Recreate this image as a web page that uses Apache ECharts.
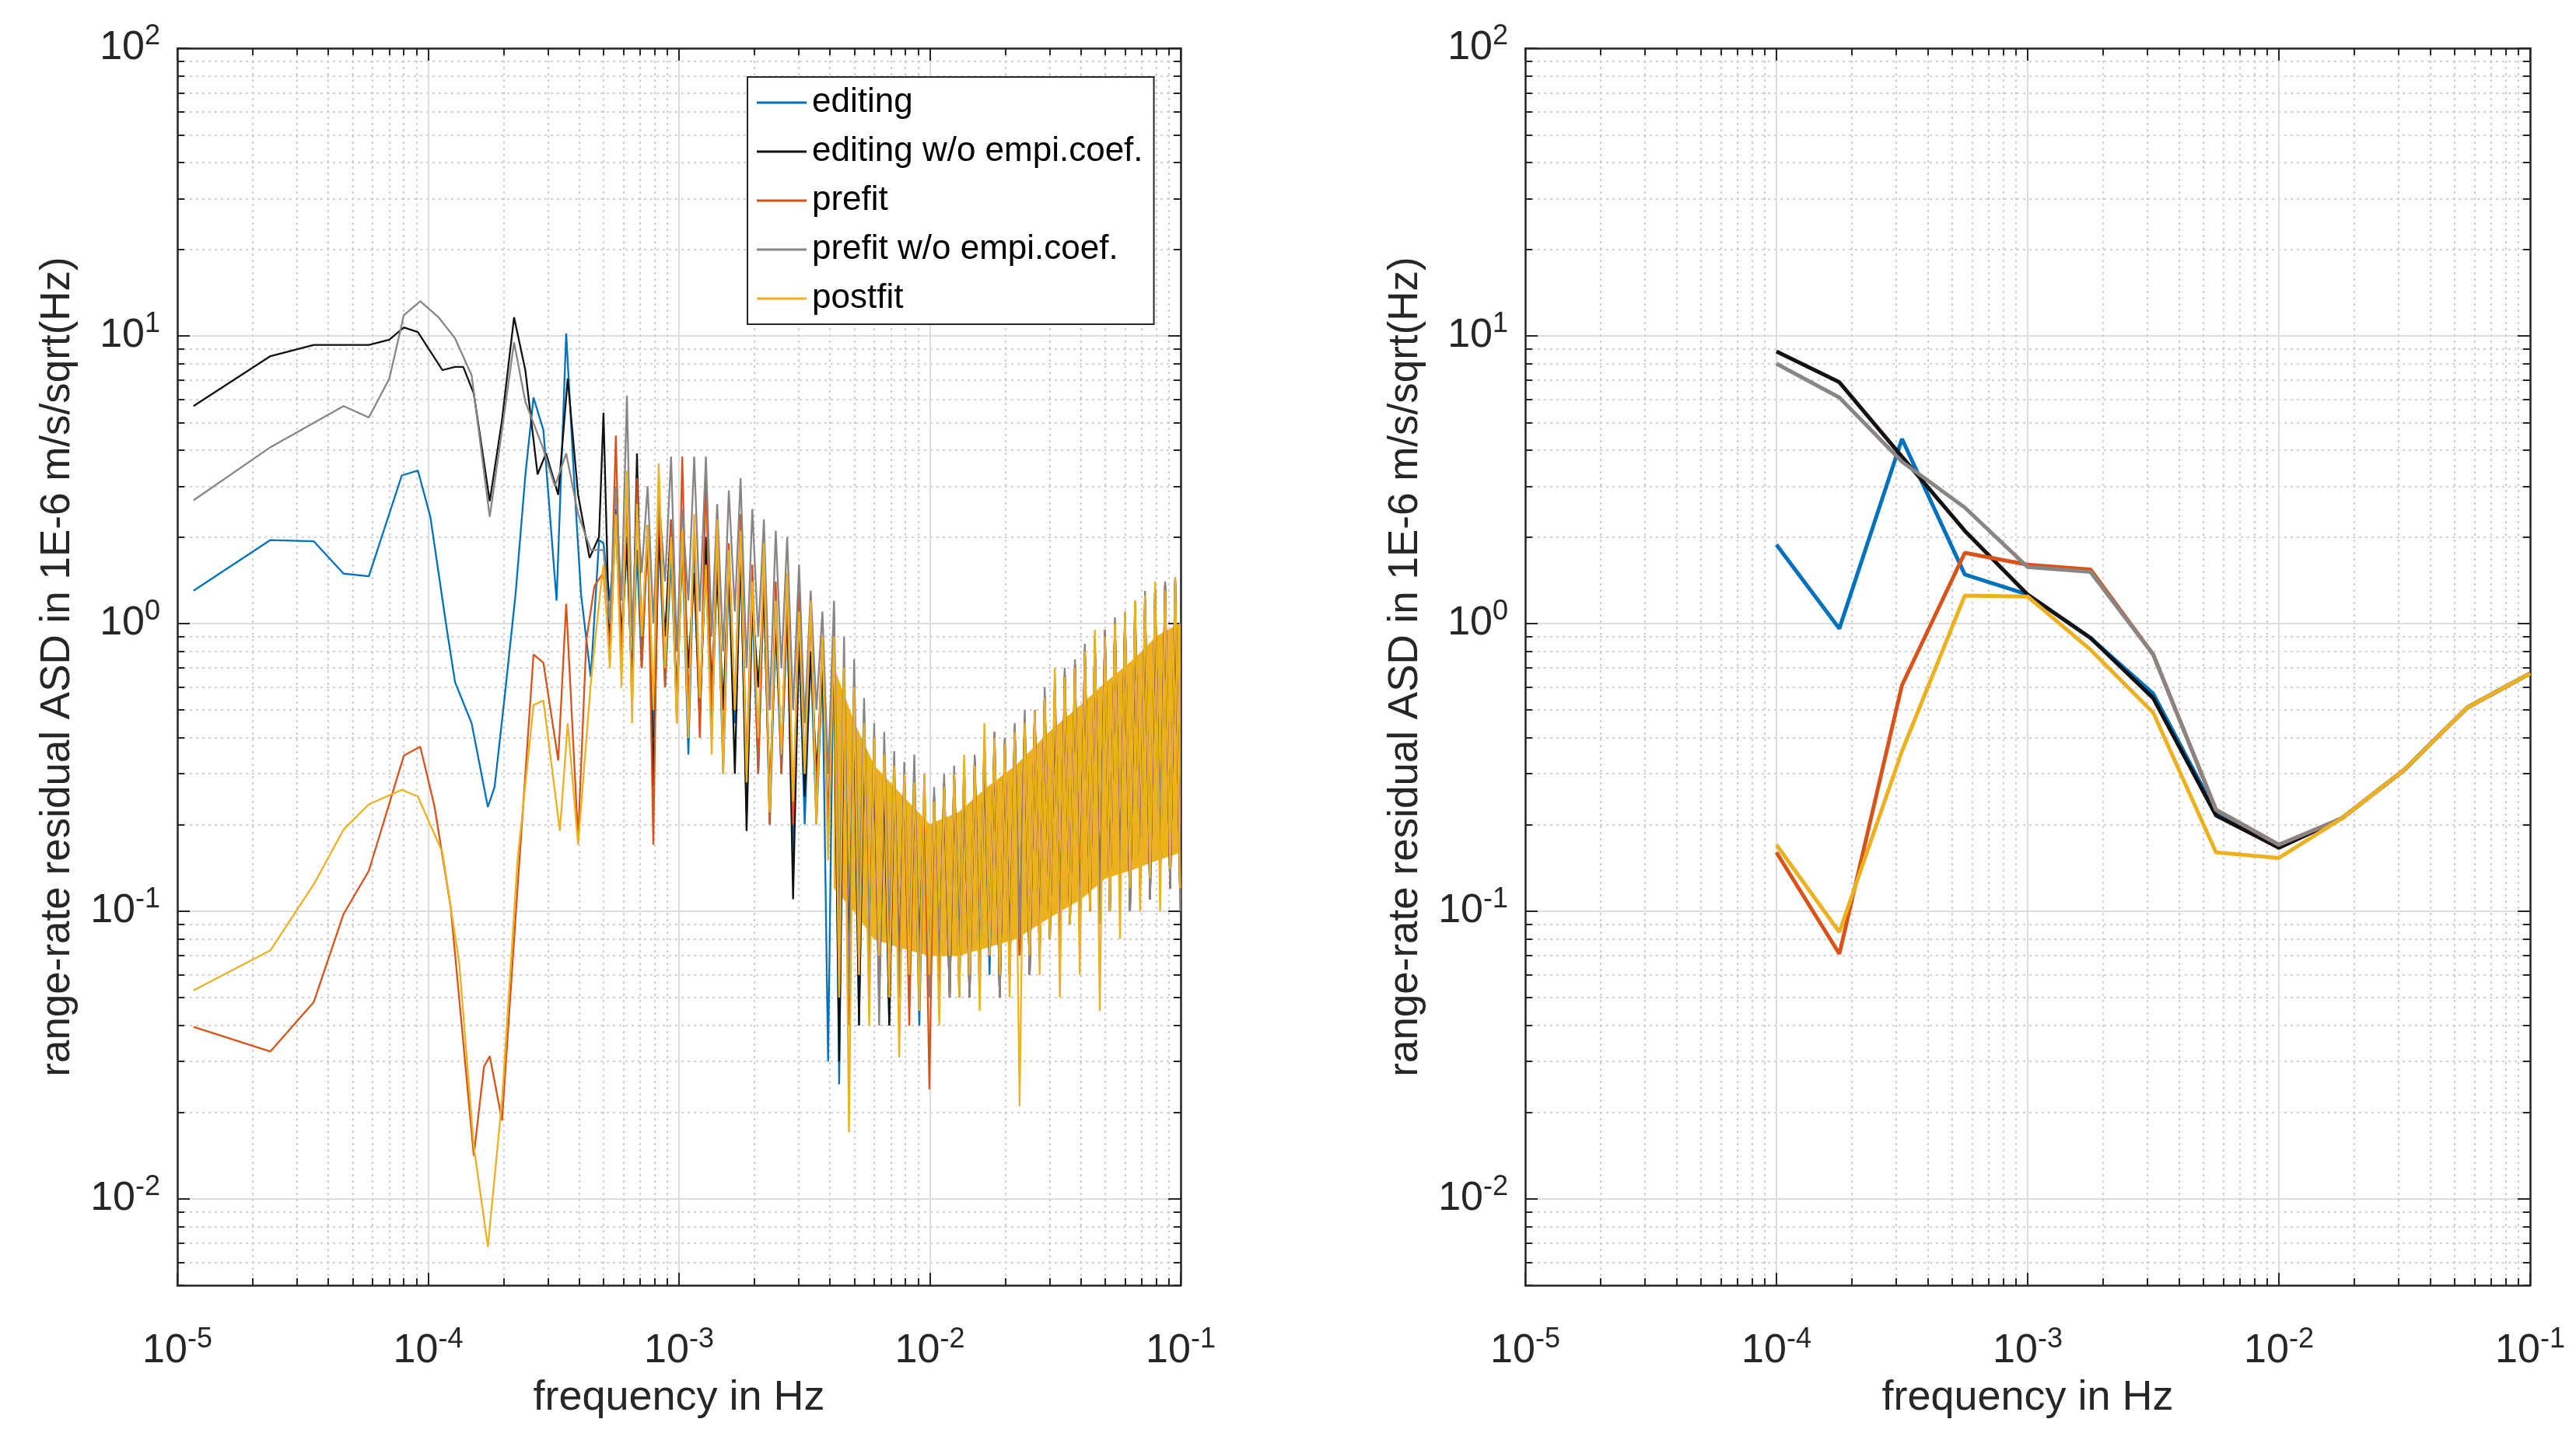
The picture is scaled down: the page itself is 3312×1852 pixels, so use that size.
<!DOCTYPE html>
<html><head><meta charset="utf-8">
<script src="https://cdn.jsdelivr.net/npm/echarts@6/dist/echarts.min.js"></script>
<style>html,body{margin:0;padding:0;background:#fff}#c{width:3312px;height:1852px}</style>
</head><body><div id="c"></div>
<script>
// ---------- data (frequency in Hz, ASD in 1E-6 m/s/sqrt(Hz)) ----------
const SERIES_NAMES = ['editing', 'editing w/o empi.coef.', 'prefit', 'prefit w/o empi.coef.', 'postfit'];
const X_TICK_EXP = [-5, -4, -3, -2, -1];
const Y_TICK_EXP = [-2, -1, 0, 1, 2];

// left panel, low-frequency part
const BLUE_LF_F = [1.16e-5,2.35e-5,3.5e-5,4.6e-5,5.8e-5,7.85e-5,9.1e-5,1.02e-4,1.19e-4,1.28e-4,1.49e-4,1.73e-4,1.84e-4,2.02e-4,2.23e-4,2.44e-4,2.63e-4,2.88e-4,3.25e-4,3.55e-4,3.83e-4,4.07e-4,4.45e-4,4.8e-4];
const BLUE_LF = [1.30,1.95,1.93,1.49,1.46,3.27,3.4,2.35,0.94,0.625,0.45,0.23,0.27,0.56,1.26,3.27,6.1,4.7,1.2,10.2,3.0,1.26,0.65,1.95];
const BLACK_LF_F = [1.16e-5,2.35e-5,3.5e-5,5.8e-5,7.0e-5,8.0e-5,9.1e-5,1.14e-4,1.28e-4,1.38e-4,1.52e-4,1.76e-4,1.97e-4,2.2e-4,2.44e-4,2.73e-4,2.95e-4,3.3e-4,3.6e-4,3.96e-4,4.4e-4,4.8e-4];
const BLACK_LF = [5.7,8.5,9.3,9.3,9.7,10.7,10.3,7.6,7.8,7.8,6.3,2.66,5.1,11.6,7.6,3.3,3.9,2.8,7.1,2.8,1.69,2.0];
const ORANGE_LF_F = [1.16e-5,2.35e-5,3.5e-5,4.6e-5,5.8e-5,8.0e-5,9.3e-5,1.06e-4,1.23e-4,1.52e-4,1.67e-4,1.76e-4,1.97e-4,2.27e-4,2.63e-4,2.88e-4,3.3e-4,3.55e-4,3.96e-4,4.27e-4,4.6e-4];
const ORANGE_LF = [0.0396,0.0325,0.0483,0.0977,0.138,0.347,0.373,0.231,0.103,0.0141,0.0288,0.0313,0.0187,0.119,0.78,0.73,0.334,1.17,0.179,0.87,1.35];
const GRAY_LF_F = [1.16e-5,2.35e-5,4.6e-5,5.8e-5,7.0e-5,8.0e-5,9.3e-5,1.1e-4,1.28e-4,1.49e-4,1.76e-4,1.97e-4,2.2e-4,2.44e-4,2.86e-4,3.2e-4,3.55e-4,3.96e-4,4.45e-4];
const GRAY_LF = [2.68,4.1,5.7,5.2,7.1,11.8,13.2,11.6,9.8,7.3,2.35,4.7,9.5,5.9,4.1,3.0,3.9,2.4,1.8];
const YELLOW_LF_F = [1.16e-5,2.35e-5,3.5e-5,4.6e-5,5.8e-5,7.85e-5,9.1e-5,1.14e-4,1.33e-4,1.52e-4,1.73e-4,1.97e-4,2.27e-4,2.63e-4,2.88e-4,3.35e-4,3.6e-4,3.96e-4,4.45e-4,4.87e-4];
const YELLOW_LF = [0.053,0.073,0.124,0.192,0.235,0.264,0.25,0.16,0.066,0.0152,0.0068,0.022,0.149,0.52,0.54,0.19,0.45,0.17,0.62,1.33];

// left panel, noisy part (shared frequencies)
const NOISE_F = [5.0e-4,5.3e-4,5.6e-4,5.9e-4,6.2e-4,6.5e-4,6.8e-4,7.1e-4,7.5e-4,7.9e-4,8.3e-4,8.8e-4,9.3e-4,9.8e-4,1.03e-3,1.09e-3,1.15e-3,1.21e-3,1.28e-3,1.35e-3,1.42e-3,1.50e-3,1.58e-3,1.67e-3,1.76e-3,1.86e-3,1.96e-3,2.07e-3,2.18e-3,2.30e-3,2.43e-3,2.56e-3,2.70e-3,2.85e-3,3.01e-3,3.17e-3,3.35e-3,3.53e-3,3.73e-3,3.93e-3,
 4.15e-3,4.35e-3,4.55e-3,4.76e-3,4.99e-3,5.22e-3,5.47e-3,5.73e-3,6.0e-3,6.28e-3,6.58e-3,6.89e-3,7.21e-3,7.55e-3,7.91e-3,8.28e-3,8.67e-3,9.08e-3,9.51e-3,9.96e-3,
 1.04e-2,1.09e-2,1.14e-2,1.2e-2,1.25e-2,1.31e-2,1.37e-2,1.44e-2,1.51e-2,1.58e-2,1.65e-2,1.73e-2,1.81e-2,1.9e-2,1.99e-2,2.08e-2,2.18e-2,2.28e-2,2.39e-2,2.5e-2,
 2.62e-2,2.74e-2,2.87e-2,3.01e-2,3.15e-2,3.3e-2,3.45e-2,3.62e-2,3.79e-2,3.96e-2,4.15e-2,4.35e-2,4.55e-2,4.76e-2,4.99e-2,5.22e-2,5.47e-2,5.73e-2,6.0e-2,6.28e-2,
 6.58e-2,6.89e-2,7.21e-2,7.55e-2,7.91e-2,8.28e-2,8.67e-2,9.08e-2,9.51e-2,9.96e-2];
const BLUE_N = [1.9,1.2,2.2,0.8,2.0,0.6,1.8,0.7,2.0,0.4,2.2,0.6,1.7,0.5,1.9,0.35,2.0,0.5,1.6,0.4,1.7,0.3,1.5,0.45,1.8,0.22,1.2,0.3,1.4,0.2,1.0,0.3,1.1,0.15,0.9,0.2,0.8,0.2,0.7,0.03,
 1.1,0.025,0.7,0.05,0.6,0.04,0.5,0.06,0.4,0.05,0.33,0.04,0.3,0.06,0.3,0.05,0.28,0.04,0.27,0.06,
 0.25,0.05,0.28,0.06,0.3,0.05,0.3,0.06,0.33,0.05,0.38,0.06,0.4,0.05,0.38,0.06,0.42,0.07,0.45,0.06,
 0.48,0.07,0.55,0.08,0.6,0.07,0.65,0.09,0.7,0.08,0.8,0.1,0.85,0.09,0.9,0.1,1.0,0.11,1.05,0.1,
 1.1,0.12,1.2,0.11,1.3,0.13,1.35,0.12,1.4,0.11];
const BLACK_N = [5.4,0.75,2.5,0.9,1.9,0.6,3.9,0.8,2.2,0.27,2.0,0.9,2.3,0.5,2.0,0.7,1.5,0.45,2.0,0.6,1.5,0.5,1.6,0.3,1.9,0.19,1.2,0.6,1.3,0.25,1.0,0.35,1.2,0.11,0.9,0.25,0.8,0.3,0.7,0.2,
 0.8,0.03,0.6,0.07,0.5,0.04,0.4,0.06,0.35,0.05,0.3,0.04,0.3,0.06,0.28,0.05,0.26,0.07,0.25,0.05,
 0.24,0.06,0.27,0.05,0.3,0.07,0.31,0.05,0.33,0.06,0.38,0.07,0.4,0.05,0.38,0.06,0.43,0.07,0.46,0.06,
 0.5,0.07,0.56,0.08,0.6,0.07,0.66,0.09,0.72,0.08,0.8,0.1,0.86,0.09,0.92,0.1,1.0,0.11,1.06,0.1,
 1.12,0.12,1.2,0.11,1.3,0.13,1.36,0.12,1.4,0.11];
const ORANGE_N = [1.5,0.8,4.5,0.7,2.8,0.5,3.2,0.7,2.2,0.17,3.0,0.6,2.3,0.45,3.8,0.5,2.2,0.4,3.3,0.5,2.0,0.35,1.9,0.5,2.4,0.3,1.6,0.3,1.7,0.2,1.4,0.3,1.3,0.2,1.3,0.3,1.1,0.25,0.9,0.2,
 0.9,0.05,0.7,0.04,0.55,0.06,0.45,0.05,0.4,0.06,0.35,0.05,0.32,0.06,0.3,0.04,0.28,0.06,0.26,0.024,
 0.25,0.06,0.28,0.05,0.3,0.06,0.32,0.05,0.34,0.06,0.4,0.07,0.42,0.05,0.4,0.06,0.44,0.07,0.47,0.06,
 0.5,0.07,0.56,0.08,0.62,0.07,0.68,0.09,0.72,0.08,0.82,0.1,0.88,0.09,0.95,0.1,1.02,0.11,1.08,0.1,
 1.15,0.12,1.22,0.11,1.3,0.13,1.38,0.12,1.42,0.11];
const GRAY_N = [1.8,1.0,3.0,1.2,6.2,0.9,2.6,1.5,3.0,1.0,2.8,1.4,3.8,0.8,2.5,1.2,3.8,1.1,3.8,0.9,2.6,0.8,2.9,1.1,3.2,0.7,2.5,0.9,2.3,0.5,2.1,0.7,2.0,0.5,1.6,0.45,1.3,0.5,1.1,0.3,
 1.2,0.08,0.9,0.05,0.75,0.1,0.55,0.06,0.45,0.04,0.42,0.08,0.36,0.05,0.33,0.07,0.35,0.06,0.3,0.05,
 0.27,0.06,0.3,0.05,0.32,0.07,0.33,0.05,0.35,0.06,0.4,0.07,0.42,0.05,0.4,0.06,0.45,0.08,0.5,0.06,
 0.5,0.07,0.6,0.09,0.65,0.07,0.7,0.1,0.75,0.08,0.85,0.11,0.9,0.09,0.95,0.1,1.05,0.12,1.1,0.1,
 1.2,0.13,1.3,0.11,1.35,0.14,1.4,0.12,1.45,0.1];
const YELLOW_N = [1.6,0.7,2.4,0.6,3.4,0.45,2.6,0.9,2.2,0.5,3.6,0.7,2.0,0.45,2.1,0.4,2.4,0.55,1.6,0.35,2.3,0.3,1.8,0.5,2.1,0.28,1.4,0.4,1.9,0.22,1.2,0.35,1.5,0.24,1.1,0.3,1.2,0.2,0.9,0.15,
 0.9,0.05,0.7,0.017,0.6,0.06,0.45,0.04,0.4,0.07,0.35,0.05,0.32,0.031,0.3,0.06,0.28,0.045,0.3,0.06,
 0.24,0.04,0.27,0.07,0.3,0.05,0.35,0.06,0.32,0.045,0.45,0.07,0.4,0.06,0.38,0.05,0.42,0.021,0.45,0.07,
 0.5,0.06,0.55,0.08,0.7,0.05,0.65,0.09,0.7,0.06,0.8,0.1,0.95,0.045,0.9,0.1,1.0,0.08,1.1,0.12,
 1.2,0.1,1.25,0.13,1.4,0.1,1.3,0.14,1.45,0.12];
// dense core of the high-frequency postfit band
const BAND_F  = [4.15e-3,5e-3,6e-3,7.5e-3,1e-2,1.3e-2,1.7e-2,2.2e-2,3e-2,4e-2,5e-2,6.5e-2,8e-2,9.96e-2];
const BAND_LO = [0.12,0.1,0.08,0.075,0.07,0.07,0.075,0.08,0.095,0.11,0.13,0.14,0.15,0.16];
const BAND_HI = [0.7,0.45,0.32,0.26,0.2,0.22,0.27,0.32,0.42,0.52,0.62,0.75,0.9,1.0];

// right panel
const R_F = [1e-4,1.78e-4,3.16e-4,5.62e-4,1e-3,1.78e-3,3.16e-3,5.62e-3,1e-2,1.78e-2,3.16e-2,5.62e-2,0.1];
const R_BLUE   = [1.88,0.96,4.38,1.48,1.26,0.89,0.57,0.22,0.166,0.21,0.31,0.51,0.67];
const R_BLACK  = [8.83,6.9,3.8,2.1,1.26,0.89,0.55,0.215,0.166,0.21,0.31,0.51,0.67];
const R_ORANGE = [0.16,0.071,0.61,1.76,1.6,1.54,0.78,0.225,0.17,0.21,0.31,0.51,0.67];
const R_GRAY   = [8.0,6.1,3.65,2.53,1.57,1.51,0.78,0.225,0.17,0.21,0.31,0.51,0.67];
const R_YELLOW = [0.17,0.0845,0.36,1.25,1.24,0.81,0.49,0.16,0.153,0.21,0.31,0.51,0.67];

// ---------- chart ----------
const COLORS = ['#0072BD', '#111111', '#D95319', '#8a8583', '#EDB120'];
const FONT = 'Liberation Sans';
const TXT = '#262626';
const L10 = Math.log10;
const pts = (f, v) => f.map((x, i) => [L10(x), L10(v[i])]);

const X_MIN = -5, X_MAX = -1, Y_MIN = L10(0.005), Y_MAX = 2;
function logTicks(lo, hi) {
  const out = [];
  for (let n = Math.floor(lo); n <= Math.ceil(hi); n++)
    for (let k = 1; k <= 9; k++) { const t = n + L10(k); if (t >= lo - 1e-9 && t <= hi + 1e-9) out.push(t); }
  return out;
}
const X_ALL = logTicks(X_MIN, X_MAX), Y_ALL = logTicks(Y_MIN, Y_MAX);
const rich = { b: { fontSize: 52, fontFamily: FONT, color: TXT }, s: { fontSize: 36, fontFamily: FONT, color: TXT, padding: [0, 0, 30, 0] } };
const fmt = v => '{b|10}{s|' + Math.round(v) + '}';

const grids = [
  { left: 228, top: 62, width: 1290, height: 1591 },
  { left: 1961, top: 62, width: 1292, height: 1591 }
];
const xAxes = [], yAxes = [];
grids.forEach((g, gi) => {
  const base = { type: 'value', gridIndex: gi, min: X_MIN, max: X_MAX };
  const line = { show: true, onZero: false, lineStyle: { color: TXT, width: 2.5 } };
  const noLine = { show: false, onZero: false };
  xAxes.push(Object.assign({}, base, { position: 'bottom', axisLine: line,
    axisTick: { inside: true, length: 9, customValues: X_ALL, lineStyle: { color: TXT, width: 2 } },
    axisLabel: { customValues: X_TICK_EXP, formatter: fmt, rich, margin: 52 },
    splitLine: { show: true, lineStyle: { color: '#c4c4c4', width: 1.6, type: [3, 5] } },
    name: 'frequency in Hz', nameLocation: 'middle', nameGap: 118,
    nameTextStyle: { fontSize: 54, fontFamily: FONT, color: TXT } }));
  xAxes.push(Object.assign({}, base, { position: 'bottom', axisLine: noLine,
    axisTick: { inside: true, length: 16, customValues: X_TICK_EXP, lineStyle: { color: TXT, width: 2 } },
    axisLabel: { show: false }, splitLine: { show: true, lineStyle: { color: '#dedede', width: 2 } } }));
  xAxes.push(Object.assign({}, base, { position: 'top', axisLine: line,
    axisTick: { inside: true, length: 9, customValues: X_ALL, lineStyle: { color: TXT, width: 2 } },
    axisLabel: { show: false }, splitLine: { show: false } }));
  xAxes.push(Object.assign({}, base, { position: 'top', axisLine: noLine,
    axisTick: { inside: true, length: 16, customValues: X_TICK_EXP, lineStyle: { color: TXT, width: 2 } },
    axisLabel: { show: false }, splitLine: { show: false } }));

  const ybase = { type: 'value', gridIndex: gi, min: Y_MIN, max: Y_MAX };
  yAxes.push(Object.assign({}, ybase, { position: 'left', axisLine: line,
    axisTick: { inside: true, length: 9, customValues: Y_ALL, lineStyle: { color: TXT, width: 2 } },
    axisLabel: { customValues: Y_TICK_EXP, formatter: fmt, rich, margin: 22 },
    splitLine: { show: true, lineStyle: { color: '#c4c4c4', width: 1.6, type: [3, 5] } },
    name: 'range-rate residual ASD in 1E-6 m/s/sqrt(Hz)', nameLocation: 'middle', nameGap: 127, nameRotate: 90,
    nameTextStyle: { fontSize: 53, fontFamily: FONT, color: TXT } }));
  yAxes.push(Object.assign({}, ybase, { position: 'left', axisLine: noLine,
    axisTick: { inside: true, length: 16, customValues: Y_TICK_EXP, lineStyle: { color: TXT, width: 2 } },
    axisLabel: { show: false }, splitLine: { show: true, lineStyle: { color: '#dedede', width: 2 } } }));
  yAxes.push(Object.assign({}, ybase, { position: 'right', axisLine: line,
    axisTick: { inside: true, length: 9, customValues: Y_ALL, lineStyle: { color: TXT, width: 2 } },
    axisLabel: { show: false }, splitLine: { show: false } }));
  yAxes.push(Object.assign({}, ybase, { position: 'right', axisLine: noLine,
    axisTick: { inside: true, length: 16, customValues: Y_TICK_EXP, lineStyle: { color: TXT, width: 2 } },
    axisLabel: { show: false }, splitLine: { show: false } }));
});

function lineSeries(name, data, gi, color, width) {
  return { type: 'line', name, data, xAxisIndex: gi * 4, yAxisIndex: gi * 4,
    showSymbol: false, symbol: 'none', animation: false, clip: true,
    lineStyle: { color, width }, itemStyle: { color } };
}
// band: each item is a quad between consecutive envelope points
const bandData = BAND_F.slice(1).map((f, i) => [L10(BAND_F[i]), L10(BAND_LO[i]), L10(BAND_HI[i]), L10(f), L10(BAND_LO[i + 1]), L10(BAND_HI[i + 1])]);
const bandSeries = {
  type: 'custom', name: 'band', xAxisIndex: 0, yAxisIndex: 0, data: bandData, animation: false, silent: true,
  renderItem: (params, api) => {
    const a = api.coord([api.value(0), api.value(1)]), b = api.coord([api.value(0), api.value(2)]);
    const c = api.coord([api.value(3), api.value(5)]), d = api.coord([api.value(3), api.value(4)]);
    return { type: 'polygon', shape: { points: [a, b, c, d] }, style: { fill: COLORS[4], stroke: COLORS[4], lineWidth: 1 } };
  }
};
const LW = 2.3, RW = 5;
const series = [
  lineSeries(SERIES_NAMES[0], pts(BLUE_LF_F.concat(NOISE_F), BLUE_LF.concat(BLUE_N)), 0, COLORS[0], LW),
  lineSeries(SERIES_NAMES[1], pts(BLACK_LF_F.concat(NOISE_F), BLACK_LF.concat(BLACK_N)), 0, COLORS[1], LW),
  lineSeries(SERIES_NAMES[2], pts(ORANGE_LF_F.concat(NOISE_F), ORANGE_LF.concat(ORANGE_N)), 0, COLORS[2], LW),
  lineSeries(SERIES_NAMES[3], pts(GRAY_LF_F.concat(NOISE_F), GRAY_LF.concat(GRAY_N)), 0, COLORS[3], LW),
  bandSeries,
  lineSeries(SERIES_NAMES[4], pts(YELLOW_LF_F.concat(NOISE_F), YELLOW_LF.concat(YELLOW_N)), 0, COLORS[4], LW),
  lineSeries(SERIES_NAMES[0], pts(R_F, R_BLUE), 1, COLORS[0], RW),
  lineSeries(SERIES_NAMES[1], pts(R_F, R_BLACK), 1, COLORS[1], RW),
  lineSeries(SERIES_NAMES[2], pts(R_F, R_ORANGE), 1, COLORS[2], RW),
  lineSeries(SERIES_NAMES[3], pts(R_F, R_GRAY), 1, COLORS[3], RW),
  lineSeries(SERIES_NAMES[4], pts(R_F, R_YELLOW), 1, COLORS[4], RW)
];

const chart = echarts.init(document.getElementById('c'), null, { renderer: 'canvas' });
chart.setOption({
  animation: false,
  backgroundColor: '#fff',
  grid: grids,
  xAxis: xAxes,
  yAxis: yAxes,
  legend: {
    data: SERIES_NAMES, orient: 'vertical', left: 961, top: 99,
    icon: 'rect', itemWidth: 64, itemHeight: 3, itemGap: 13,
    padding: [8, 14, 8, 12], borderColor: TXT, borderWidth: 2, backgroundColor: '#fff',
    selectedMode: false,
    textStyle: { fontSize: 44, fontFamily: FONT, color: '#000', lineHeight: 50, padding: [0, 0, 0, 2] }
  },
  series
});
</script></body></html>
